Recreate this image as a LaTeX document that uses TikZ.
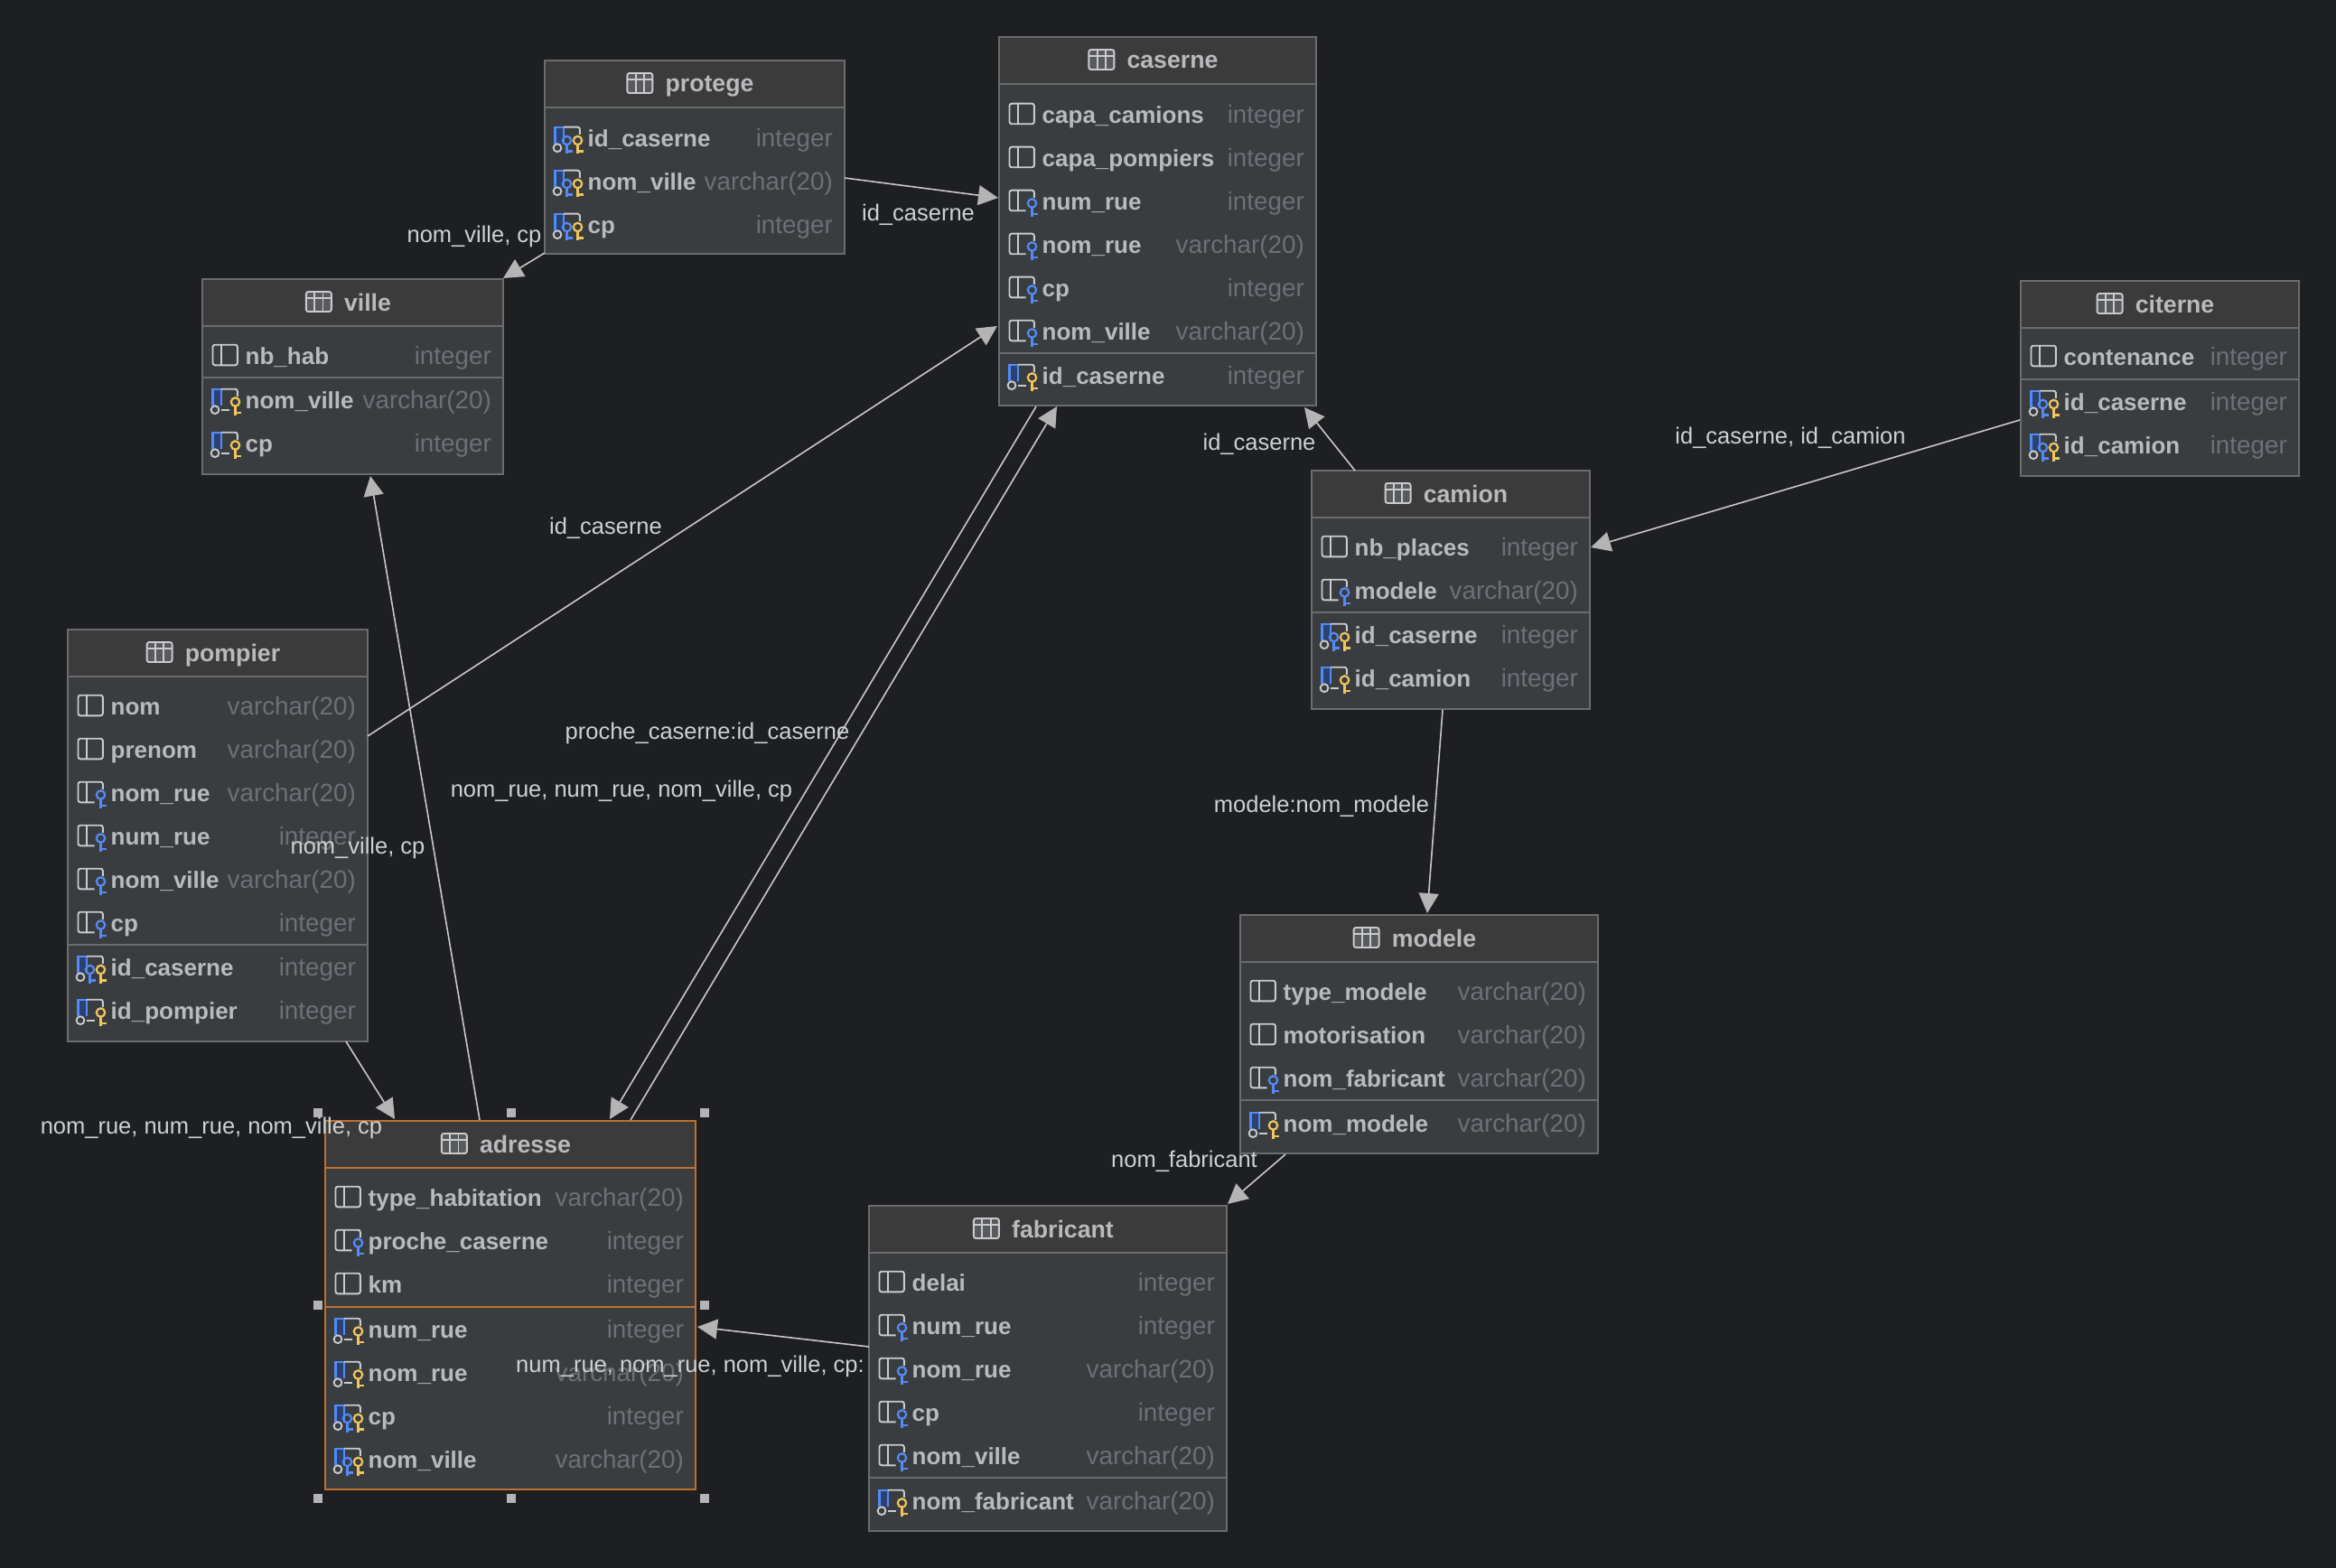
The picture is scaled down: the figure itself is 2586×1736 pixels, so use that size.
\documentclass[tikz,border=0pt]{standalone}
\usepackage{fontspec}
\setmainfont{Liberation Sans}
\usetikzlibrary{arrows.meta}
\definecolor{bgc}{HTML}{1E1F22}
\definecolor{bodyc}{HTML}{3A3D40}
\definecolor{headc}{HTML}{3C3B3B}
\definecolor{borderc}{HTML}{6B6C6C}
\definecolor{selc}{HTML}{C0702C}
\definecolor{namec}{HTML}{B9BABD}
\definecolor{typec}{HTML}{6C7077}
\definecolor{labelc}{HTML}{CFD0D1}
\definecolor{iconc}{HTML}{C9CBCF}
\definecolor{bluec}{HTML}{548AF7}
\definecolor{darkbluec}{HTML}{2B4270}
\definecolor{yellowc}{HTML}{F2C55C}
\definecolor{connc}{HTML}{C8C8C8}
\definecolor{tipc}{HTML}{B4B4B4}
\definecolor{handlec}{HTML}{B4B4B4}
\newcommand{\tfont}{\fontsize{26.7}{30}\bfseries\selectfont}
\newcommand{\nfont}{\fontsize{26}{30}\bfseries\selectfont}
\newcommand{\yfont}{\fontsize{27.8}{30}\selectfont}
\newcommand{\lfont}{\fontsize{25.5}{30}\selectfont}
\tikzset{
  tablebox/.style={draw=borderc,fill=bodyc,line width=2pt,anchor=north west,inner sep=0pt,outer sep=0pt},
  headbox/.style={fill=headc,anchor=north west,inner sep=0pt,outer sep=0pt},
  titletext/.style={anchor=base,inner sep=0pt,text=namec,font=\tfont},
  nametext/.style={anchor=base west,inner sep=0pt,text=namec,font=\nfont},
  typetext/.style={anchor=base east,inner sep=0pt,text=typec,font=\yfont},
  lbl/.style={anchor=base,inner sep=0pt,text=labelc,font=\lfont},
  conn/.style={draw=connc,line width=1.6pt,-{Triangle[length=22pt,width=22pt,fill=tipc,color=tipc]}},
  iconline/.style={draw=iconc,line width=1.9pt},
  handle/.style={fill=handlec,minimum size=10pt,inner sep=0pt,outer sep=0pt},
}
% key: colour, x, y
\newcommand{\keyicon}[3]{%
  \draw[draw=#1,line width=2.2pt] (#2,#3) circle[radius=4.7];
  \draw[draw=#1,line width=2.2pt] (#2,#3+4.7) -- (#2,#3+15) (#2,#3+12) -- (#2+6,#3+12);
}
\newcommand{\iconplain}{%
  \draw[iconline,rounded corners=2.5pt] (0,-13.3) rectangle (27.4,9.3);
  \draw[iconline] (9.4,-13.3) -- (9.4,9.3);
}
\newcommand{\iconf}{%
  \draw[iconline,rounded corners=2.5pt] (18,9.3) -- (0,9.3) -- (0,-13.3) -- (27.4,-13.3) -- (27.4,-5);
  \draw[iconline] (9.4,-13.3) -- (9.4,9.3);
  \keyicon{bluec}{25}{1}
}
\newcommand{\iconbase}{%
  \fill[darkbluec] (0,-13.3) rectangle (9.4,6);
  \draw[draw=bluec,line width=2.2pt] (0,5) -- (0,-13.3) -- (9.4,-13.3) -- (9.4,5);
  \draw[iconline,rounded corners=2.5pt] (9.4,-13.3) -- (27.4,-13.3) -- (27.4,-5);
  \draw[iconline,fill=bodyc] (2.5,9.7) circle[radius=4.4];
}
\newcommand{\iconk}{%
  \iconbase
  \draw[iconline] (9.4,9.7) -- (18,9.7);
  \keyicon{yellowc}{25}{1}
}
\newcommand{\iconb}{%
  \iconbase
  \keyicon{bluec}{13}{1.5}
  \keyicon{yellowc}{25}{1.5}
}
% name, L, T, R, B, title, border colour
\newcommand{\dbtable}[7]{%
  \def\tL{#2}\def\tR{#4}\def\tN{#1}\def\tC{#7}%
  \pgfmathsetmacro{\tw}{#4-#2}\pgfmathsetmacro{\th}{#5-#3}\pgfmathsetmacro{\hh}{52}%
  \node[tablebox,draw=#7,minimum width=\tw pt,minimum height=\th pt] (#1) at (#2,#3) {};
  \node[headbox,minimum width=\tw pt-2pt,minimum height=\hh pt-1pt] (#1-head) at (#2+1,#3+1) {};
  \draw[draw=#7,line width=2pt] (#1-head.south west) -- (#1-head.south east);
  \node[titletext] (#1-title) at ({(#2+#4)/2-4.5+21},#3+35) {#6};
  \coordinate (#1-icon) at ([shift={(-42,-21)}]#1-title.base west);
  \begin{scope}[shift={(#1-icon)}]
    \draw[iconline,fill=bodyc!85!white,rounded corners=2.5pt] (0,0) rectangle (28,22);
    \draw[iconline] (0,7) -- (28,7) (9.3,0) -- (9.3,22) (18.7,0) -- (18.7,22);
  \end{scope}
}
% row key, y, icon macro, text, type
\newcommand{\dbrow}[5]{%
  \begin{scope}[shift={(\tL+11.5,#2)}]#3\end{scope}
  \node[nametext] (\tN-#1-n) at (\tL+47.5,#2+8.5) {#4};
  \node[typetext] (\tN-#1-t) at (\tR-13,#2+8.5) {#5};
}
\newcommand{\dbrule}[1]{\draw[draw=\tC,line width=2pt] (\tL+1,#1) -- (\tR-1,#1);}
\newcommand{\VC}{varchar(20)}
\begin{document}
\begin{tikzpicture}[x=1pt,y=-1pt]
\fill[bgc] (0,0) rectangle (2586,1736);
\useasboundingbox (0,0) rectangle (2586,1736);

\dbtable{protege}{603}{67}{935}{281}{protege}{borderc}
\dbrow{a}{154}{\iconb}{id\_caserne}{integer}
\dbrow{b}{202}{\iconb}{nom\_ville}{\VC}
\dbrow{c}{250}{\iconb}{cp}{integer}

\dbtable{caserne}{1106}{41}{1457}{449}{caserne}{borderc}
\dbrow{a}{128}{\iconplain}{capa\_camions}{integer}
\dbrow{b}{176}{\iconplain}{capa\_pompiers}{integer}
\dbrow{c}{224}{\iconf}{num\_rue}{integer}
\dbrow{d}{272}{\iconf}{nom\_rue}{\VC}
\dbrow{e}{320}{\iconf}{cp}{integer}
\dbrow{f}{368}{\iconf}{nom\_ville}{\VC}
\dbrule{391}
\dbrow{g}{417}{\iconk}{id\_caserne}{integer}

\dbtable{ville}{224}{309}{557}{525}{ville}{borderc}
\dbrow{a}{395}{\iconplain}{nb\_hab}{integer}
\dbrule{418}
\dbrow{b}{444}{\iconk}{nom\_ville}{\VC}
\dbrow{c}{492}{\iconk}{cp}{integer}

\dbtable{citerne}{2237}{311}{2545}{527}{citerne}{borderc}
\dbrow{a}{396}{\iconplain}{contenance}{integer}
\dbrule{420}
\dbrow{b}{446}{\iconb}{id\_caserne}{integer}
\dbrow{c}{494}{\iconb}{id\_camion}{integer}

\dbtable{camion}{1452}{521}{1760}{785}{camion}{borderc}
\dbrow{a}{607}{\iconplain}{nb\_places}{integer}
\dbrow{b}{655}{\iconf}{modele}{\VC}
\dbrule{678}
\dbrow{c}{704}{\iconb}{id\_caserne}{integer}
\dbrow{d}{752}{\iconk}{id\_camion}{integer}

\dbtable{pompier}{75}{697}{407}{1153}{pompier}{borderc}
\dbrow{a}{783}{\iconplain}{nom}{\VC}
\dbrow{b}{831}{\iconplain}{prenom}{\VC}
\dbrow{c}{879}{\iconf}{nom\_rue}{\VC}
\dbrow{d}{927}{\iconf}{num\_rue}{integer}
\dbrow{e}{975}{\iconf}{nom\_ville}{\VC}
\dbrow{f}{1023}{\iconf}{cp}{integer}
\dbrule{1046}
\dbrow{g}{1072}{\iconb}{id\_caserne}{integer}
\dbrow{h}{1120}{\iconk}{id\_pompier}{integer}

\dbtable{modele}{1373}{1013}{1769}{1277}{modele}{borderc}
\dbrow{a}{1099}{\iconplain}{type\_modele}{\VC}
\dbrow{b}{1147}{\iconplain}{motorisation}{\VC}
\dbrow{c}{1195}{\iconf}{nom\_fabricant}{\VC}
\dbrule{1218}
\dbrow{d}{1245}{\iconk}{nom\_modele}{\VC}

\dbtable{fabricant}{962}{1335}{1358}{1695}{fabricant}{borderc}
\dbrow{a}{1421}{\iconplain}{delai}{integer}
\dbrow{b}{1469}{\iconf}{num\_rue}{integer}
\dbrow{c}{1517}{\iconf}{nom\_rue}{\VC}
\dbrow{d}{1565}{\iconf}{cp}{integer}
\dbrow{e}{1613}{\iconf}{nom\_ville}{\VC}
\dbrule{1636}
\dbrow{f}{1663}{\iconk}{nom\_fabricant}{\VC}

\dbtable{adresse}{360}{1241}{770}{1649}{adresse}{selc}
\dbrow{a}{1327}{\iconplain}{type\_habitation}{\VC}
\dbrow{b}{1375}{\iconf}{proche\_caserne}{integer}
\dbrow{c}{1423}{\iconplain}{km}{integer}
\dbrule{1447}
\dbrow{d}{1473}{\iconk}{num\_rue}{integer}
\dbrow{e}{1521}{\iconk}{nom\_rue}{\VC}
\dbrow{f}{1569}{\iconb}{cp}{integer}
\dbrow{g}{1617}{\iconb}{nom\_ville}{\VC}

\node[handle] (h1) at (352,1232) {};
\node[handle] (h2) at (566,1232) {};
\node[handle] (h3) at (780,1232) {};
\node[handle] (h4) at (352,1445) {};
\node[handle] (h5) at (780,1445) {};
\node[handle] (h6) at (352,1659) {};
\node[handle] (h7) at (566,1659) {};
\node[handle] (h8) at (780,1659) {};

% connectors: offsets measured from each table's north west corner
\draw[conn] ([shift={(332,130)}]protege.north west) -- ([shift={(-1,178)}]caserne.north west);
\draw[conn] ([shift={(0,213)}]protege.north west) -- ([shift={(333,-1)}]ville.north west);
\draw[conn] ([shift={(332,118)}]pompier.north west) -- ([shift={(-2,320)}]caserne.north west);
\draw[conn] ([shift={(171,-1)}]adresse.north west) -- ([shift={(186,218)}]ville.north west);
\draw[conn] ([shift={(308,456)}]pompier.north west) -- ([shift={(77,-2)}]adresse.north west);
\draw[conn] ([shift={(41,409)}]caserne.north west) -- ([shift={(315,-2)}]adresse.north west);
\draw[conn] ([shift={(338,-1)}]adresse.north west) -- ([shift={(64,409)}]caserne.north west);
\draw[conn] ([shift={(48,0)}]camion.north west) -- ([shift={(338,410)}]caserne.north west);
\draw[conn] ([shift={(-1,154)}]citerne.north west) -- ([shift={(309,85)}]camion.north west);
\draw[conn] ([shift={(145,265)}]camion.north west) -- ([shift={(207,-2)}]modele.north west);
\draw[conn] ([shift={(50,265)}]modele.north west) -- ([shift={(397,-2)}]fabricant.north west);
\draw[conn] ([shift={(0,156)}]fabricant.north west) -- ([shift={(412,228)}]adresse.north west);

\node[lbl] (l1) at (1016.5,245) {id\_caserne};
\node[lbl] (l2) at (525,269) {nom\_ville, cp};
\node[lbl] (l3) at (670.5,591) {id\_caserne};
\node[lbl] (l4) at (396,945) {nom\_ville, cp};
\node[lbl] (l5) at (234,1255) {nom\_rue, num\_rue, nom\_ville, cp};
\node[lbl] (l6) at (783,818) {proche\_caserne:id\_caserne};
\node[lbl] (l7) at (688,882) {nom\_rue, num\_rue, nom\_ville, cp};
\node[lbl] (l8) at (1394,498) {id\_caserne};
\node[lbl] (l9) at (1982,491) {id\_caserne, id\_camion};
\node[lbl] (l10) at (1463,899) {modele:nom\_modele};
\node[lbl] (l11) at (1311,1292) {nom\_fabricant};
\node[lbl] (l12) at (764,1519) {num\_rue, nom\_rue, nom\_ville, cp:};
\end{tikzpicture}
\end{document}
